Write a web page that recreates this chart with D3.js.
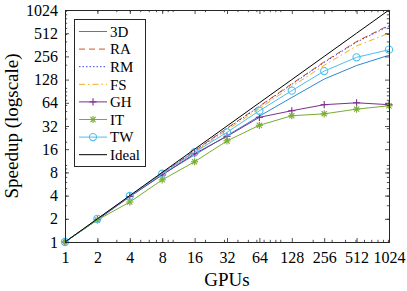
<!DOCTYPE html>
<html>
<head>
<meta charset="utf-8">
<script src="https://cdn.jsdelivr.net/npm/d3@7"></script>
<style>
  html, body { margin: 0; padding: 0; background: #fff; }
  svg { display: block; font-family: "Liberation Serif", "DejaVu Serif", serif; }
</style>
</head>
<body>
<svg id="chart" width="407" height="291"></svg>
<script>
// GPU counts on the x axis
const gpus = [1, 2, 4, 8, 16, 32, 64, 128, 256, 512, 1024];
const tickValues = [1, 2, 4, 8, 16, 32, 64, 128, 256, 512, 1024];

// speedup per benchmark
const speed3D = [1, 1.95, 3.85, 7.5, 13.5, 24, 43, 75, 130, 195, 265];
const speedRA = [1, 1.98, 3.95, 7.8, 15.3, 30, 58, 113, 218, 400, 650];
const speedRM = [1, 1.97, 3.92, 7.75, 15.2, 29.7, 57, 111, 214, 392, 635];
const speedFS = [1, 1.96, 3.88, 7.6, 14.8, 28.5, 54, 104, 196, 350, 512];
const speedGH = [1, 1.95, 3.9, 7.4, 14, 23.5, 41.5, 50.5, 60.5, 64, 60.5];
const speedIT = [1, 1.93, 3.3, 6.4, 11, 20.5, 32.7, 43.5, 46, 53, 58.6];
const speedTW = [1, 2, 3.95, 7.7, 14.6, 26.5, 50.5, 92, 165, 249, 313];
const speedIdeal = [1, 2, 4, 8, 16, 32, 64, 128, 256, 512, 1024];

const series = [
  { name: "3D", values: speed3D, color: "#2F88CE", dash: null, marker: null },
  { name: "RA", values: speedRA, color: "#D95319", dash: "6,4", marker: null },
  { name: "RM", values: speedRM, color: "#4040E0", dash: "1.5,2", marker: null },
  { name: "FS", values: speedFS, color: "#EDB120", dash: "6,3,1.5,3", marker: null },
  { name: "GH", values: speedGH, color: "#7E2F8E", dash: null, marker: "plus" },
  { name: "IT", values: speedIT, color: "#77AC30", dash: null, marker: "star" },
  { name: "TW", values: speedTW, color: "#4DBEEE", dash: null, marker: "circle" },
  { name: "Ideal", values: speedIdeal, color: "#000000", dash: null, marker: null },
];

const margin = { left: 65, right: 18, top: 10, bottom: 49 };
const width = 407, height = 291;
const svg = d3.select("#chart");

const x = d3.scaleLog().base(2).domain([1, 1024]).range([margin.left, width - margin.right]);
const y = d3.scaleLog().base(2).domain([1, 1024]).range([height - margin.bottom, margin.top]);

const minorTicks = [];
[1, 10, 100].forEach((p) => {
  for (let k = 1; k <= 9; k++) minorTicks.push(k * p);
});
minorTicks.push(1000);

const axisColor = "#262626";
const plot = svg.append("g");

// series lines
const line = d3.line().x((d) => x(d.g)).y((d) => y(d.v));
series.forEach((s) => {
  const pts = gpus.map((g, i) => ({ g, v: s.values[i] }));
  plot.append("path")
    .attr("d", line(pts))
    .attr("fill", "none")
    .attr("stroke", s.color)
    .attr("stroke-width", 1)
    .attr("stroke-dasharray", s.dash);
  if (s.marker) {
    pts.forEach((p) => drawMarker(plot, s.marker, x(p.g), y(p.v), s.color));
  }
});

function drawMarker(g, type, cx, cy, color) {
  const r = 3.6;
  if (type === "circle") {
    g.append("circle").attr("cx", cx).attr("cy", cy).attr("r", r)
      .attr("fill", "none").attr("stroke", color).attr("stroke-width", 1.1);
  } else {
    const segs = [[-r, 0, r, 0], [0, -r, 0, r]];
    if (type === "star") {
      const d = r * 0.72;
      segs.push([-d, -d, d, d], [-d, d, d, -d]);
    }
    segs.forEach((s) => {
      g.append("line")
        .attr("x1", cx + s[0]).attr("y1", cy + s[1])
        .attr("x2", cx + s[2]).attr("y2", cy + s[3])
        .attr("stroke", color).attr("stroke-width", 1.1);
    });
  }
}

// axes with inward ticks, box on all sides
function addAxis(axisFn, scale, transform, withLabels) {
  const major = svg.append("g").attr("transform", transform)
    .call(axisFn(scale).tickValues(tickValues).tickSizeInner(-4).tickSizeOuter(0)
      .tickFormat(withLabels ? d3.format("d") : ""));
  const minor = svg.append("g").attr("transform", transform)
    .call(axisFn(scale).tickValues(minorTicks).tickSizeInner(-2.2).tickSizeOuter(0).tickFormat(""));
  [major, minor].forEach((a) => {
    a.selectAll("line").attr("stroke", axisColor).attr("stroke-width", 0.8);
    a.select(".domain").attr("stroke", axisColor).attr("stroke-width", 1);
  });
  major.selectAll("text")
    .attr("fill", "#000")
    .attr("font-size", 16)
    .attr("font-family", "Liberation Serif, serif");
  return major;
}

const bottom = addAxis(d3.axisBottom, x, `translate(0,${height - margin.bottom})`, true);
bottom.selectAll("text").attr("dy", "0.95em").attr("y", 6);
addAxis(d3.axisTop, x, `translate(0,${margin.top})`, false);
const left = addAxis(d3.axisLeft, y, `translate(${margin.left},0)`, true);
left.selectAll("text").attr("x", -7);
addAxis(d3.axisRight, y, `translate(${width - margin.right},0)`, false);

// axis titles
svg.append("text")
  .attr("x", (x.range()[0] + x.range()[1]) / 2)
  .attr("y", 286)
  .attr("text-anchor", "middle")
  .attr("font-size", 19)
  .text("GPUs");

svg.append("text")
  .attr("transform", `translate(18,${(y.range()[0] + y.range()[1]) / 2}) rotate(-90)`)
  .attr("text-anchor", "middle")
  .attr("font-size", 19)
  .text("Speedup (logscale)");

// legend
const legend = svg.append("g").attr("transform", "translate(74,19)");
legend.append("rect")
  .attr("x", 0.5).attr("y", 0.5).attr("width", 71).attr("height", 147)
  .attr("fill", "#fff").attr("stroke", axisColor).attr("stroke-width", 1);
series.forEach((s, i) => {
  const ly = 12.5 + i * 17.6;
  legend.append("line")
    .attr("x1", 5).attr("x2", 33).attr("y1", ly).attr("y2", ly)
    .attr("stroke", s.color).attr("stroke-width", 1)
    .attr("stroke-dasharray", s.dash);
  if (s.marker) drawMarker(legend, s.marker, 19, ly, s.color);
  legend.append("text")
    .attr("x", 36).attr("y", ly)
    .attr("dy", "0.35em")
    .attr("font-size", 15)
    .text(s.name);
});
</script>
</body>
</html>
